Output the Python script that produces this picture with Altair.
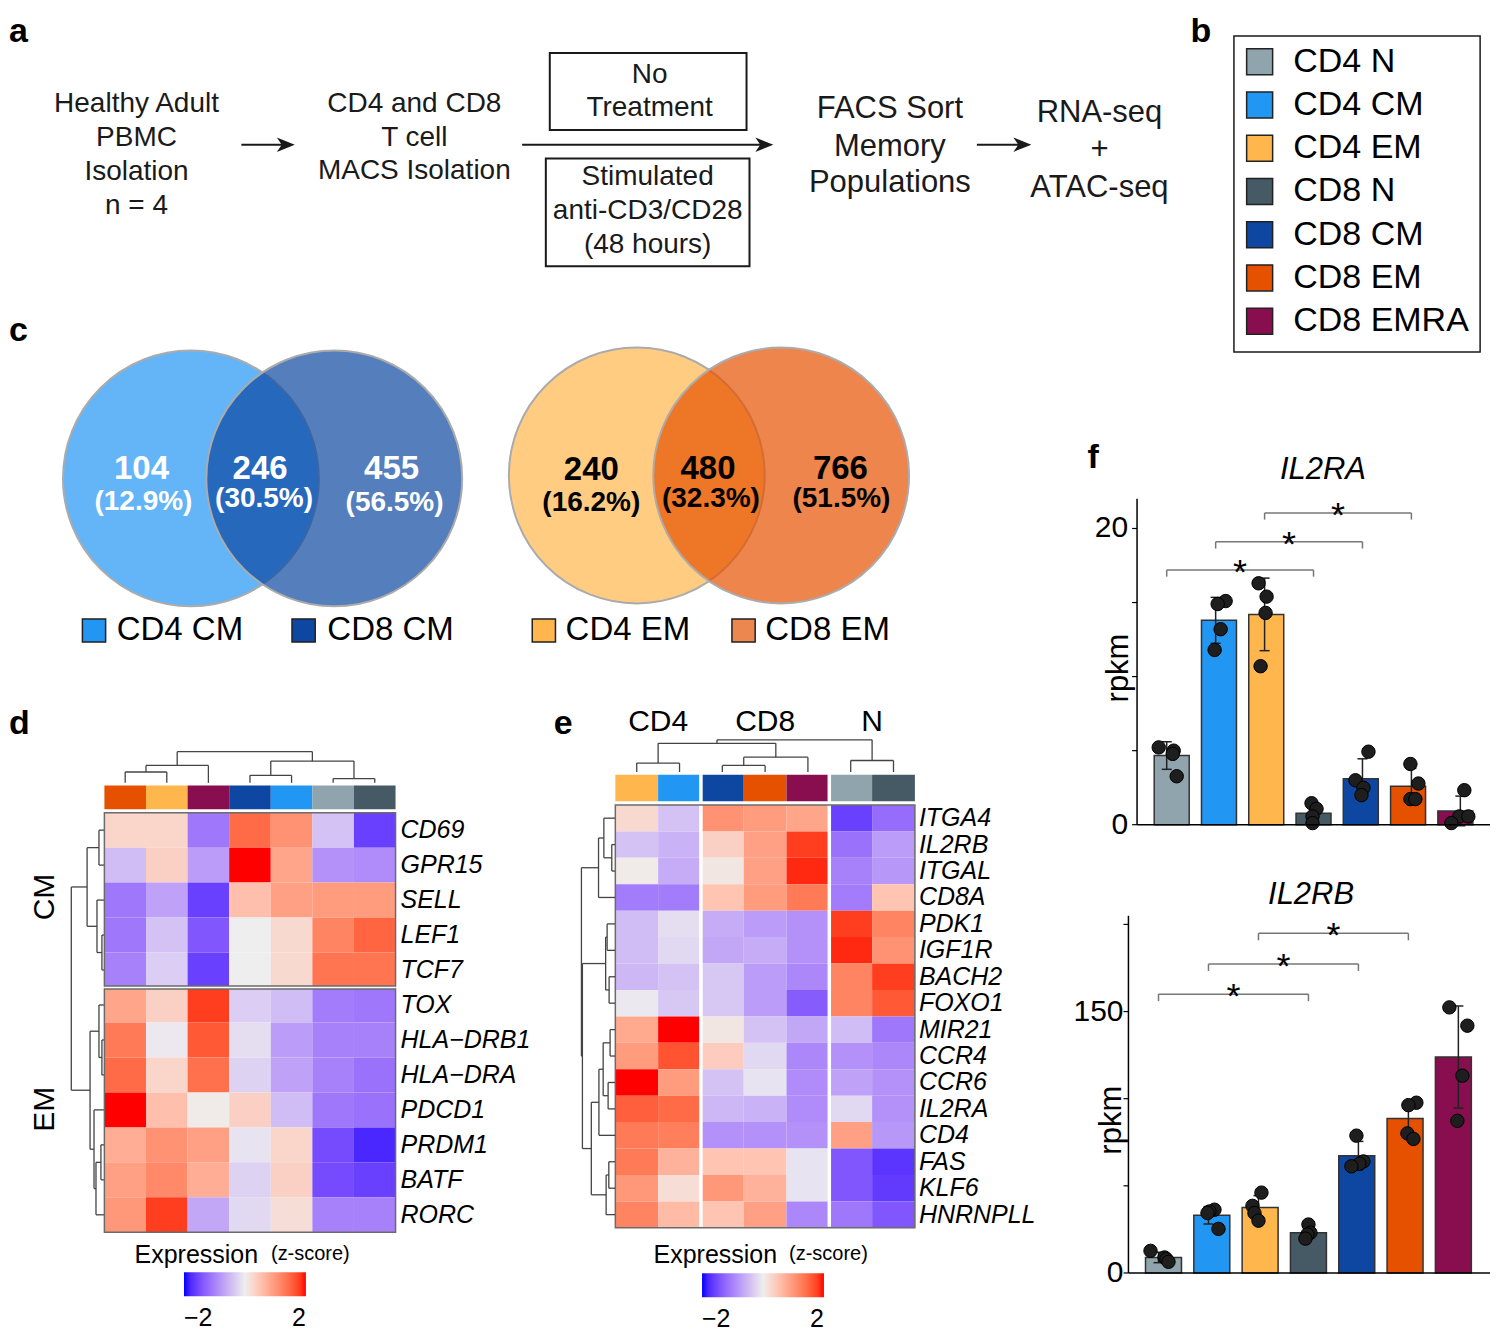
import altair as alt
import pandas as pd

# ---------------- data ----------------
CELL_TYPES = ["CD4 N", "CD4 CM", "CD4 EM", "CD8 N", "CD8 CM", "CD8 EM", "CD8 EMRA"]
CELL_COLORS = ["#90A4AE", "#2196F3", "#FFB74D", "#455A64", "#0D47A1", "#E65100", "#880E4F"]

FLOW_STEP1 = ["Healthy Adult", "PBMC", "Isolation", "n = 4"]
FLOW_STEP2 = ["CD4 and CD8", "T cell", "MACS Isolation"]
FLOW_BOX1 = ["No", "Treatment"]
FLOW_BOX2 = ["Stimulated", "anti-CD3/CD28", "(48 hours)"]
FLOW_STEP3 = ["FACS Sort", "Memory", "Populations"]
FLOW_STEP4 = ["RNA-seq", "+", "ATAC-seq"]

VENN_SETS = ["CD4 CM", "CD8 CM", "CD4 EM", "CD8 EM"]
VENN_COLORS = ["#2196F3", "#0D47A1", "#FFB74D", "#E65100"]
VENN_KEY_COLORS = ["#2196F3", "#0D47A1", "#FFB74D", "#EB874F"]
VENN_COUNTS = [104, 246, 455, 240, 480, 766]
VENN_PCTS = ["(12.9%)", "(30.5%)", "(56.5%)", "(16.2%)", "(32.3%)", "(51.5%)"]

D_COLS = ["CD8 EM", "CD4 EM", "CD8 EMRA", "CD8 CM", "CD4 CM", "CD4 N", "CD8 N"]
D_CM_GENES = ["CD69", "GPR15", "SELL", "LEF1", "TCF7"]
D_EM_GENES = ["TOX", "HLA\u2212DRB1", "HLA\u2212DRA", "PDCD1", "PRDM1", "BATF", "RORC"]
D_VALUES = [
    [0.3, 0.3, -1.1, 1.45, 1.05, -0.4, -1.6],
    [-0.45, 0.35, -0.75, 2.0, 0.85, -0.85, -0.9],
    [-1.1, -0.7, -1.6, 0.55, 0.9, 0.95, 0.95],
    [-1.1, -0.4, -1.4, 0.0, 0.25, 1.2, 1.5],
    [-1.0, -0.3, -1.6, 0.0, 0.25, 1.35, 1.35],
    [0.85, 0.35, 1.8, -0.3, -0.45, -1.05, -1.1],
    [1.3, -0.05, 1.6, -0.15, -0.75, -1.0, -1.0],
    [1.45, 0.3, 1.4, -0.25, -0.7, -1.0, -1.15],
    [2.0, 0.55, 0.05, 0.35, -0.45, -1.1, -1.15],
    [0.75, 1.05, 0.9, -0.1, 0.3, -1.5, -1.8],
    [0.9, 1.15, 0.75, -0.25, 0.35, -1.5, -1.6],
    [1.0, 1.8, -0.65, -0.2, 0.2, -1.0, -1.0],
]
D_COL_TREE = ((("CD8 EM", "CD4 EM", 11.0), "CD8 EMRA", 17.6),
              (("CD8 CM", "CD4 CM", 7.6), ("CD4 N", "CD8 N", 4.3), 22.0), 31.6)
D_ROW_TREE = ((("CD69", "GPR15", 5.0), ("SELL", ("LEF1", "TCF7", 2.0), 7.0), 17.0),
              (("TOX", ("HLA\u2212DRB1", "HLA\u2212DRA", 2.0), 5.0),
               ("PDCD1", (("PRDM1", "BATF", 3.0), "RORC", 8.0), 10.0), 14.0), 33.0)

E_COLS = ["CD4 EM", "CD4 CM", "CD8 CM", "CD8 EM", "CD8 EMRA", "CD4 N", "CD8 N"]
E_GROUPS = ["CD4", "CD8", "N"]
E_GROUP_SIZES = [2, 3, 2]
E_GENES = ["ITGA4", "IL2RB", "ITGAL", "CD8A", "PDK1", "IGF1R", "BACH2", "FOXO1",
           "MIR21", "CCR4", "CCR6", "IL2RA", "CD4", "FAS", "KLF6", "HNRNPLL"]
E_VALUES = [
    [0.25, -0.4, 1.05, 0.95, 0.85, -1.6, -1.2],
    [-0.4, -0.55, 0.35, 0.9, 1.8, -1.15, -0.75],
    [0.05, -0.6, 0.1, 0.9, 1.9, -1.0, -0.8],
    [-1.05, -1.05, 0.5, 0.95, 1.3, -1.05, 0.5],
    [-0.45, -0.15, -0.6, -0.75, -0.85, 1.8, 1.2],
    [-0.45, -0.2, -0.65, -0.6, -0.85, 1.9, 1.05],
    [-0.5, -0.4, -0.35, -0.75, -0.95, 1.2, 1.8],
    [-0.05, -0.35, -0.35, -0.75, -1.35, 1.2, 1.6],
    [0.8, 2.0, 0.1, -0.4, -0.65, -0.45, -1.1],
    [0.95, 1.65, 0.4, -0.2, -0.95, -0.85, -0.95],
    [2.0, 0.95, -0.4, -0.1, -0.9, -0.7, -0.85],
    [1.55, 1.45, -0.5, -0.55, -0.9, -0.2, -0.85],
    [1.3, 1.25, -0.85, -0.85, -0.85, 0.9, -0.8],
    [1.3, 0.7, 0.5, 0.5, -0.1, -1.4, -1.7],
    [1.0, 0.2, 1.0, 0.7, -0.1, -1.4, -1.65],
    [1.2, 0.6, 0.5, 0.9, -0.95, -1.1, -1.4],
]
E_COL_TREE = ((("CD4 EM", "CD4 CM", 9.0), (("CD8 CM", "CD8 EM", 6.6), "CD8 EMRA", 15.0), 29.0),
              ("CD4 N", "CD8 N", 11.6), 32.6)
E_ROW_TREE = (((("ITGA4", ("IL2RB", "ITGAL", 3.3), 11.3), "CD8A", 16.7)),
              ((("PDK1", "IGF1R", 8.0), ("BACH2", "FOXO1", 6.0), 9.5),
               (((("MIR21", "CCR4", 5.0), ("CCR6", "IL2RA", 7.0), 12.0), "CD4", 16.3),
                (("FAS", "KLF6", 6.3), "HNRNPLL", 9.0), 24.0), 33.0), 34.0)

IL2RA_MEAN = [4.67, 13.8, 14.2, 0.78, 3.1, 2.6, 0.93]
IL2RA_SD = [0.93, 1.55, 2.45, 0.5, 1.35, 1.2, 1.0]
IL2RA_POINTS = [[5.22, 5.0, 4.78, 3.27], [15.1, 14.9, 13.2, 11.8], [16.3, 15.4, 14.3, 10.7],
                [1.45, 1.07, 0.56, 0.11], [4.93, 3.0, 2.49, 2.0], [4.1, 2.78, 1.73, 1.73],
                [2.33, 0.56, 0.56, 0.11]]
IL2RA_JITTER = [[-8, 7, 6, 10], [10, 2, 5, -1], [-6, 2, 1, -4], [-2, 3, -1, -1],
                [6, -7, 1, -1], [-1, 7, -1, 4], [4, -1, 8, -9]]
IL2RA_BRACKETS = [(0, 3, 17.2), (1, 4, 19.1), (2, 5, 21.05)]

IL2RB_MEAN = [8.9, 33.1, 37.6, 23.1, 67.3, 88.6, 123.9]
IL2RB_SD = [3.0, 5.0, 6.8, 3.0, 8.2, 9.5, 29.3]
IL2RB_POINTS = [[12.7, 8.9, 7.9, 6.4], [36.3, 35.3, 34.4, 25.3], [46.1, 38.5, 34.4, 30.0],
                [27.8, 23.1, 22.1, 19.7], [78.8, 64.0, 62.7, 61.2], [97.7, 96.3, 80.1, 76.9],
                [152.4, 141.9, 113.2, 87.3]]
IL2RB_JITTER = [[-8, 6, 8, 10], [6, 1, -1, 10], [3, -6, -4, 0], [0, 2, -1, -3],
                [-2, 5, 1, -7], [8, 0, -1, 5], [-9, 9, 4, -1]]
IL2RB_BRACKETS = [(0, 3, 160.0), (1, 4, 177.3), (2, 5, 194.9)]

# ---------------- layout helpers ----------------
W, H = 1483, 1321
RW, RH = 1499, 1337


def X(v):
    return v * W / RW


def Y(v):
    return v * H / RH


CX = alt.Scale(domain=[0, RW], range=[0, W])
CY = alt.Scale(domain=[0, RH], range=[0, H])
TYPE_SCALE = alt.Scale(domain=CELL_TYPES, range=CELL_COLORS)
HEAT = alt.Scale(domain=[-2, 0, 2], range=["#0000ff", "#eeeeee", "#ff0000"], interpolate="lab")
ARROW = "M1,0L-1,-0.8L-0.45,0L-1,0.8Z"


def ex(field, scale):
    return alt.X(field, scale=scale, axis=None)


def ey(field, scale):
    return alt.Y(field, scale=scale, axis=None)


def xd(v, scale=CX):
    return alt.XDatum(v, scale=scale, axis=None, type="quantitative")


def yd(v, scale=CY):
    return alt.YDatum(v, scale=scale, axis=None, type="quantitative")


def canvas_text(rows, **kw):
    df = pd.DataFrame(rows, columns=["t", "x", "y"])
    return alt.Chart(df).mark_text(**kw).encode(x=ex("x:Q", CX), y=ey("y:Q", CY), text="t:N")


def tree_segments(tree, leaves):
    pos = {name: i + 0.5 for i, name in enumerate(leaves)}
    segs = []

    def walk(node):
        if isinstance(node, str):
            return pos[node], 0.0
        left, right, h = node
        pl, hl = walk(left)
        pr, hr = walk(right)
        segs.append((pl, hl, pl, h))
        segs.append((pr, hr, pr, h))
        segs.append((pl, h, pr, h))
        return (pl + pr) / 2, h

    walk(tree)
    return pd.DataFrame(segs, columns=["p1", "h1", "p2", "h2"])


def col_dendro(tree, leaves, xr, yr, hmax):
    df = tree_segments(tree, leaves)
    xs = alt.Scale(domain=[0, len(leaves)], range=xr)
    ys = alt.Scale(domain=[0, hmax], range=yr)
    return alt.Chart(df).mark_rule(color="#444444", strokeWidth=1.3).encode(
        x=ex("p1:Q", xs), x2="p2:Q", y=ey("h1:Q", ys), y2="h2:Q")


def row_dendro(tree, leaves, xr, yr, hmax):
    df = tree_segments(tree, leaves)
    ys = alt.Scale(domain=[0, len(leaves)], range=yr)
    xs = alt.Scale(domain=[0, hmax], range=xr)
    return alt.Chart(df).mark_rule(color="#444444", strokeWidth=1.3).encode(
        y=ey("p1:Q", ys), y2="p2:Q", x=ex("h1:Q", xs), x2="h2:Q")


def heat_df(genes, cols, values):
    rows = []
    for g, vals in zip(genes, values):
        for c, v in zip(cols, vals):
            rows.append({"gene": g, "col": c, "z": v})
    return pd.DataFrame(rows)


def heat_legend(xref, yref):
    return alt.Legend(orient="none", legendX=X(xref), legendY=Y(yref) - 2, direction="horizontal",
                      gradientLength=122, gradientThickness=24, title="", values=[-2, 2],
                      labelFontSize=25, labelColor="black", labelOffset=10, gradientStrokeWidth=0)


layers = []

# ---------------- panel letters ----------------
layers.append(canvas_text([("a", 1, 7), ("b", 1196, 7)],
                          align="left", baseline="top", fontSize=34, fontWeight="bold"))
layers.append(canvas_text([("c", 1, 327), ("d", 1, 725), ("e", 552, 725), ("f", 1092, 455)],
                          align="left", baseline="middle", fontSize=34, fontWeight="bold"))

# ---------------- panel a: flowchart ----------------
flow_rows = []
for lines, xc, ys, fs in [(FLOW_STEP1, 130, [97, 131, 166, 200], 28),
                          (FLOW_STEP2, 411, [97, 131, 165], 28),
                          (FLOW_BOX1, 649, [67, 101], 28),
                          (FLOW_BOX2, 647, [171, 205, 240], 28),
                          (FLOW_STEP3, 892, [102, 140, 177], 31),
                          (FLOW_STEP4, 1104, [106, 143, 182], 31)]:
    for t, yy in zip(lines, ys):
        flow_rows.append({"t": t, "x": xc, "y": yy, "fs": fs})
layers.append(alt.Chart(pd.DataFrame(flow_rows)).mark_text(align="center", baseline="middle", color="#1a1a1a").encode(
    x=ex("x:Q", CX), y=ey("y:Q", CY), text="t:N", size=alt.Size("fs:Q", scale=None, legend=None)))

boxes = pd.DataFrame({"x": [548, 544, 1240], "x2": [747, 750, 1489], "y": [45, 152, 28], "y2": [123, 261, 348],
                      "w": [2.0, 2.0, 1.5]})
layers.append(alt.Chart(boxes).mark_rect(fill="white", fillOpacity=0, stroke="#1a1a1a").encode(
    x=ex("x:Q", CX), x2="x2:Q", y=ey("y:Q", CY), y2="y2:Q",
    strokeWidth=alt.StrokeWidth("w:Q", scale=None, legend=None)))

arrows = pd.DataFrame({"x": [236, 520, 980], "tip": [290, 774, 1035], "y": [138, 138, 138]})
arrows["shaft_end"] = arrows["tip"] - 10
arrows["head"] = arrows["tip"] - 9
layers.append(alt.Chart(arrows).mark_rule(color="#1a1a1a", strokeWidth=2).encode(
    x=ex("x:Q", CX), x2="shaft_end:Q", y=ey("y:Q", CY)))
layers.append(alt.Chart(arrows).mark_point(shape=ARROW, size=324, filled=True, color="#1a1a1a", opacity=1).encode(
    x=ex("head:Q", CX), y=ey("y:Q", CY)))

# ---------------- panel b: legend ----------------
key_df = pd.DataFrame({"type": CELL_TYPES})
key_y = alt.Scale(type="point", domain=CELL_TYPES, range=[Y(54), Y(316.7)], padding=0)
layers.append(alt.Chart(key_df).mark_square(size=676, opacity=1, stroke="#222222", strokeWidth=1.5).encode(
    x=xd(1266), y=ey("type:N", key_y), color=alt.Color("type:N", scale=TYPE_SCALE, legend=None)))
layers.append(alt.Chart(key_df).mark_text(align="left", baseline="middle", fontSize=34).encode(
    x=xd(1300), y=ey("type:N", key_y), text="type:N"))

# ---------------- panel c: venn ----------------
venn_df = pd.DataFrame({"set": VENN_SETS, "x": [185, 330, 636, 782], "y": [476, 476, 473, 473]})
layers.append(alt.Chart(venn_df).mark_point(shape="circle", filled=True, size=65536, opacity=1, fillOpacity=0.7,
                                            stroke="#ababab", strokeWidth=2, strokeOpacity=1).encode(
    x=ex("x:Q", CX), y=ey("y:Q", CY),
    color=alt.Color("set:N", scale=alt.Scale(domain=VENN_SETS, range=VENN_COLORS), legend=None)))
num_x = [135, 255, 388, 590, 708, 842]
num_y = [466, 466, 466, 467, 466, 466]
pct_x = [137, 259, 391, 590, 711, 843]
pct_y = [500, 497, 501, 501, 497, 497]
for sl, col in [(slice(0, 3), "white"), (slice(3, 6), "black")]:
    layers.append(canvas_text(list(zip([str(c) for c in VENN_COUNTS[sl]], num_x[sl], num_y[sl])),
                              align="center", baseline="middle", fontSize=33, fontWeight="bold", color=col))
    layers.append(canvas_text(list(zip(VENN_PCTS[sl], pct_x[sl], pct_y[sl])),
                              align="center", baseline="middle", fontSize=28, fontWeight="bold", color=col))
vkey = pd.DataFrame({"set": VENN_SETS, "sx": [87, 299, 542, 744], "tx": [110, 323, 564, 766], "y": [630] * 4})
layers.append(alt.Chart(vkey).mark_square(size=540, opacity=1, stroke="#222222", strokeWidth=1.5).encode(
    x=ex("sx:Q", CX), y=ey("y:Q", CY),
    color=alt.Color("set:N", scale=alt.Scale(domain=VENN_SETS, range=VENN_KEY_COLORS), legend=None)))
layers.append(alt.Chart(vkey).mark_text(align="left", baseline="middle", fontSize=33).encode(
    x=ex("tx:Q", CX), y=ey("y:Q", CY), text="set:N"))

# ---------------- panel d: heatmap ----------------
d_genes = D_CM_GENES + D_EM_GENES
dx0, dx1, dy0, dy1 = X(97.5), X(392), Y(814.5), Y(1239.5)
dxb = alt.Scale(domain=D_COLS, range=[dx0, dx1], paddingInner=0, paddingOuter=0)
dyb = alt.Scale(domain=d_genes, range=[dy0, dy1], paddingInner=0, paddingOuter=0)
dxi = alt.Scale(domain=[0, len(D_COLS)], range=[dx0, dx1])
dyi = alt.Scale(domain=[0, len(d_genes)], range=[dy0, dy1])

layers.append(col_dendro(D_COL_TREE, D_COLS, [dx0, dx1], [Y(784.3), Y(752.7)], 31.6))
layers.append(alt.Chart(pd.DataFrame({"col": D_COLS})).mark_rect().encode(
    x=ex("col:N", dxb), y=yd(787), y2=alt.Y2Datum(811),
    color=alt.Color("col:N", scale=TYPE_SCALE, legend=None)))
layers.append(alt.Chart(heat_df(d_genes, D_COLS, D_VALUES)).mark_rect().encode(
    x=ex("col:N", dxb), y=ey("gene:N", dyb),
    color=alt.Color("z:Q", scale=HEAT, legend=heat_legend(178, 1282))))
ncm = len(D_CM_GENES)
layers.append(alt.Chart(pd.DataFrame({"p": [ncm]})).mark_rule(color="white", strokeWidth=3).encode(
    y=ey("p:Q", dyi), x=xd(0, dxi), x2=alt.X2Datum(len(D_COLS))))
layers.append(alt.Chart(pd.DataFrame({"a": [0], "b": [ncm]})).mark_rect(
    fill="white", fillOpacity=0, stroke="#6b6b6b", strokeWidth=1.5, y2Offset=-1.5).encode(
    y=ey("a:Q", dyi), y2="b:Q", x=xd(0, dxi), x2=alt.X2Datum(len(D_COLS))))
layers.append(alt.Chart(pd.DataFrame({"a": [ncm], "b": [len(d_genes)]})).mark_rect(
    fill="white", fillOpacity=0, stroke="#6b6b6b", strokeWidth=1.5, yOffset=1.5).encode(
    y=ey("a:Q", dyi), y2="b:Q", x=xd(0, dxi), x2=alt.X2Datum(len(D_COLS))))
layers.append(alt.Chart(pd.DataFrame({"gene": d_genes})).mark_text(
    align="left", baseline="middle", dx=5, fontSize=25, fontStyle="italic").encode(
    x=xd(len(D_COLS), dxi), y=ey("gene:N", dyb), text="gene:N"))
layers.append(row_dendro(D_ROW_TREE, d_genes, [X(97), X(64)], [dy0, dy1], 33.0))
layers.append(canvas_text([("CM", 37, 900), ("EM", 37, 1115)], align="center", baseline="middle",
                          fontSize=30, angle=270))
layers.append(canvas_text([("Expression", 128, 1263), ("Expression", 653, 1263)],
                          align="left", baseline="middle", fontSize=25))
layers.append(canvas_text([("(z-score)", 266, 1261), ("(z-score)", 790, 1261)],
                          align="left", baseline="middle", fontSize=20))

# ---------------- panel e: heatmap ----------------
ex0, ex1, ey0, ey1 = X(614.3), X(917.3), Y(806.7), Y(1235)
exb = alt.Scale(domain=E_COLS, range=[ex0, ex1], paddingInner=0, paddingOuter=0)
eyb = alt.Scale(domain=E_GENES, range=[ey0, ey1], paddingInner=0, paddingOuter=0)
exi = alt.Scale(domain=[0, len(E_COLS)], range=[ex0, ex1])
eyi = alt.Scale(domain=[0, len(E_GENES)], range=[ey0, ey1])

layers.append(col_dendro(E_COL_TREE, E_COLS, [ex0, ex1], [Y(773.3), Y(740.7)], 32.6))
layers.append(alt.Chart(pd.DataFrame({"col": E_COLS})).mark_rect().encode(
    x=ex("col:N", exb), y=yd(776), y2=alt.Y2Datum(803),
    color=alt.Color("col:N", scale=TYPE_SCALE, legend=None)))
layers.append(alt.Chart(heat_df(E_GENES, E_COLS, E_VALUES)).mark_rect().encode(
    x=ex("col:N", exb), y=ey("gene:N", eyb),
    color=alt.Color("z:Q", scale=HEAT, legend=heat_legend(702, 1283))))
bounds, centers, acc = [], [], 0
for s in E_GROUP_SIZES:
    centers.append(acc + s / 2)
    acc += s
    bounds.append(acc)
layers.append(alt.Chart(pd.DataFrame({"p": bounds[:-1]})).mark_rule(color="white", strokeWidth=3.5).encode(
    x=ex("p:Q", exi), y=yd(775), y2=alt.Y2Datum(1234)))
layers.append(alt.Chart(pd.DataFrame({"a": [0], "b": [len(E_GENES)]})).mark_rect(
    fill="white", fillOpacity=0, stroke="#6b6b6b", strokeWidth=1.5).encode(
    y=ey("a:Q", eyi), y2="b:Q", x=xd(0, exi), x2=alt.X2Datum(len(E_COLS))))
layers.append(alt.Chart(pd.DataFrame({"gene": E_GENES})).mark_text(
    align="left", baseline="middle", dx=4, fontSize=25, fontStyle="italic").encode(
    x=xd(len(E_COLS), exi), y=ey("gene:N", eyb), text="gene:N"))
layers.append(row_dendro(E_ROW_TREE, E_GENES, [X(614), X(580)], [ey0, ey1], 34.0))
layers.append(alt.Chart(pd.DataFrame({"g": E_GROUPS, "c": centers})).mark_text(
    align="center", baseline="middle", fontSize=30).encode(x=ex("c:Q", exi), y=yd(723), text="g:N"))


# ---------------- panel f: bar charts ----------------
def bar_panel(mean, sd, points, jitter, brackets, leg, ymax, y0, ppu, xc0, xc6, axis_x,
              ticks, tick_labels, label_gap, bar_w, title, title_xy, ylab_xy):
    ys = alt.Scale(domain=[0, ymax], range=[Y(y0), Y(y0 - ymax * ppu)])
    xs = alt.Scale(domain=[0, 6], range=[X(xc0), X(xc6)])
    step = (X(xc6) - X(xc0)) / 6
    idx = list(range(len(CELL_TYPES)))
    bdf = pd.DataFrame({"type": CELL_TYPES, "i": idx, "m": mean,
                        "lo": [m - s for m, s in zip(mean, sd)],
                        "hi": [m + s for m, s in zip(mean, sd)]})
    out = []
    out.append(alt.Chart(bdf).mark_bar(width=bar_w, stroke="#333333", strokeWidth=1.5).encode(
        x=ex("i:Q", xs), y=ey("m:Q", ys), color=alt.Color("type:N", scale=TYPE_SCALE, legend=None)))
    out.append(alt.Chart(bdf).mark_rule(color="#222222", strokeWidth=1.5).encode(
        x=ex("i:Q", xs), y=ey("lo:Q", ys), y2="hi:Q"))
    cap = pd.DataFrame({"i": idx + idx, "v": list(bdf["lo"]) + list(bdf["hi"])})
    out.append(alt.Chart(cap).mark_tick(orient="horizontal", size=10, thickness=1.5, color="#222222", opacity=1).encode(
        x=ex("i:Q", xs), y=ey("v:Q", ys)))
    prow = []
    for i, (vals, jits) in enumerate(zip(points, jitter)):
        for v, j in zip(vals, jits):
            prow.append({"xi": i + j / step, "v": v})
    out.append(alt.Chart(pd.DataFrame(prow)).mark_circle(size=180, color="#1e1e1e", opacity=1,
                                                         stroke="black", strokeWidth=1).encode(
        x=ex("xi:Q", xs), y=ey("v:Q", ys)))
    segs, stars = [], []
    for a, b, h in brackets:
        segs += [(a, h, b, h), (a, h - leg, a, h), (b, h - leg, b, h)]
        stars.append({"xm": (a + b) / 2, "h": h, "t": "*"})
    sdf = pd.DataFrame(segs, columns=["x1", "y1", "x2", "y2"])
    out.append(alt.Chart(sdf).mark_rule(color="#777777", strokeWidth=1.5).encode(
        x=ex("x1:Q", xs), x2="x2:Q", y=ey("y1:Q", ys), y2="y2:Q"))
    out.append(alt.Chart(pd.DataFrame(stars)).mark_text(fontSize=36, baseline="alphabetic", dy=14).encode(
        x=ex("xm:Q", xs), y=ey("h:Q", ys), text="t:N"))
    axdf = pd.DataFrame({"v0": [0], "v1": [ymax]})
    out.append(alt.Chart(axdf).mark_rule(color="black", strokeWidth=1.5).encode(
        x=xd(axis_x), y=ey("v0:Q", ys), y2="v1:Q"))
    out.append(alt.Chart(axdf).mark_rule(color="black", strokeWidth=1.5).encode(
        x=xd(axis_x), x2=alt.X2Datum(RW), y=ey("v0:Q", ys)))
    out.append(alt.Chart(pd.DataFrame({"v": ticks})).mark_rule(color="black", strokeWidth=1.2).encode(
        x=xd(axis_x - 5), x2=alt.X2Datum(axis_x), y=ey("v:Q", ys)))
    ldf = pd.DataFrame({"v": tick_labels, "t": [str(t) for t in tick_labels]})
    out.append(alt.Chart(ldf).mark_text(align="right", baseline="middle", fontSize=30).encode(
        x=xd(axis_x - label_gap), y=ey("v:Q", ys), text="t:N"))
    out.append(canvas_text([(title, title_xy[0], title_xy[1])], align="center", baseline="middle",
                           fontSize=31, fontStyle="italic"))
    out.append(canvas_text([("rpkm", ylab_xy[0], ylab_xy[1])], align="center", baseline="middle",
                           fontSize=31, angle=270))
    return out


layers += bar_panel(IL2RA_MEAN, IL2RA_SD, IL2RA_POINTS, IL2RA_JITTER, IL2RA_BRACKETS, 0.45,
                    22, 826.7, 15.0, 1172, 1469, 1142, [0, 5, 10, 15, 20], [0, 20], 9, 35,
                    "IL2RA", (1330, 467), (1124, 668))
layers += bar_panel(IL2RB_MEAN, IL2RB_SD, IL2RB_POINTS, IL2RB_JITTER, IL2RB_BRACKETS, 4.0,
                    205, 1280.7, 1.765, 1163.7, 1467, 1133.3, [0, 50, 100, 150, 200], [0, 150], 5, 36,
                    "IL2RB", (1318, 898), (1117, 1126))

chart = alt.layer(*layers).resolve_scale(
    x="independent", y="independent", color="independent"
).properties(width=W, height=H, padding=0).configure(font="Liberation Sans").configure_view(stroke=None)

chart.save("out.html", embed_options={"renderer": "svg", "actions": False})
